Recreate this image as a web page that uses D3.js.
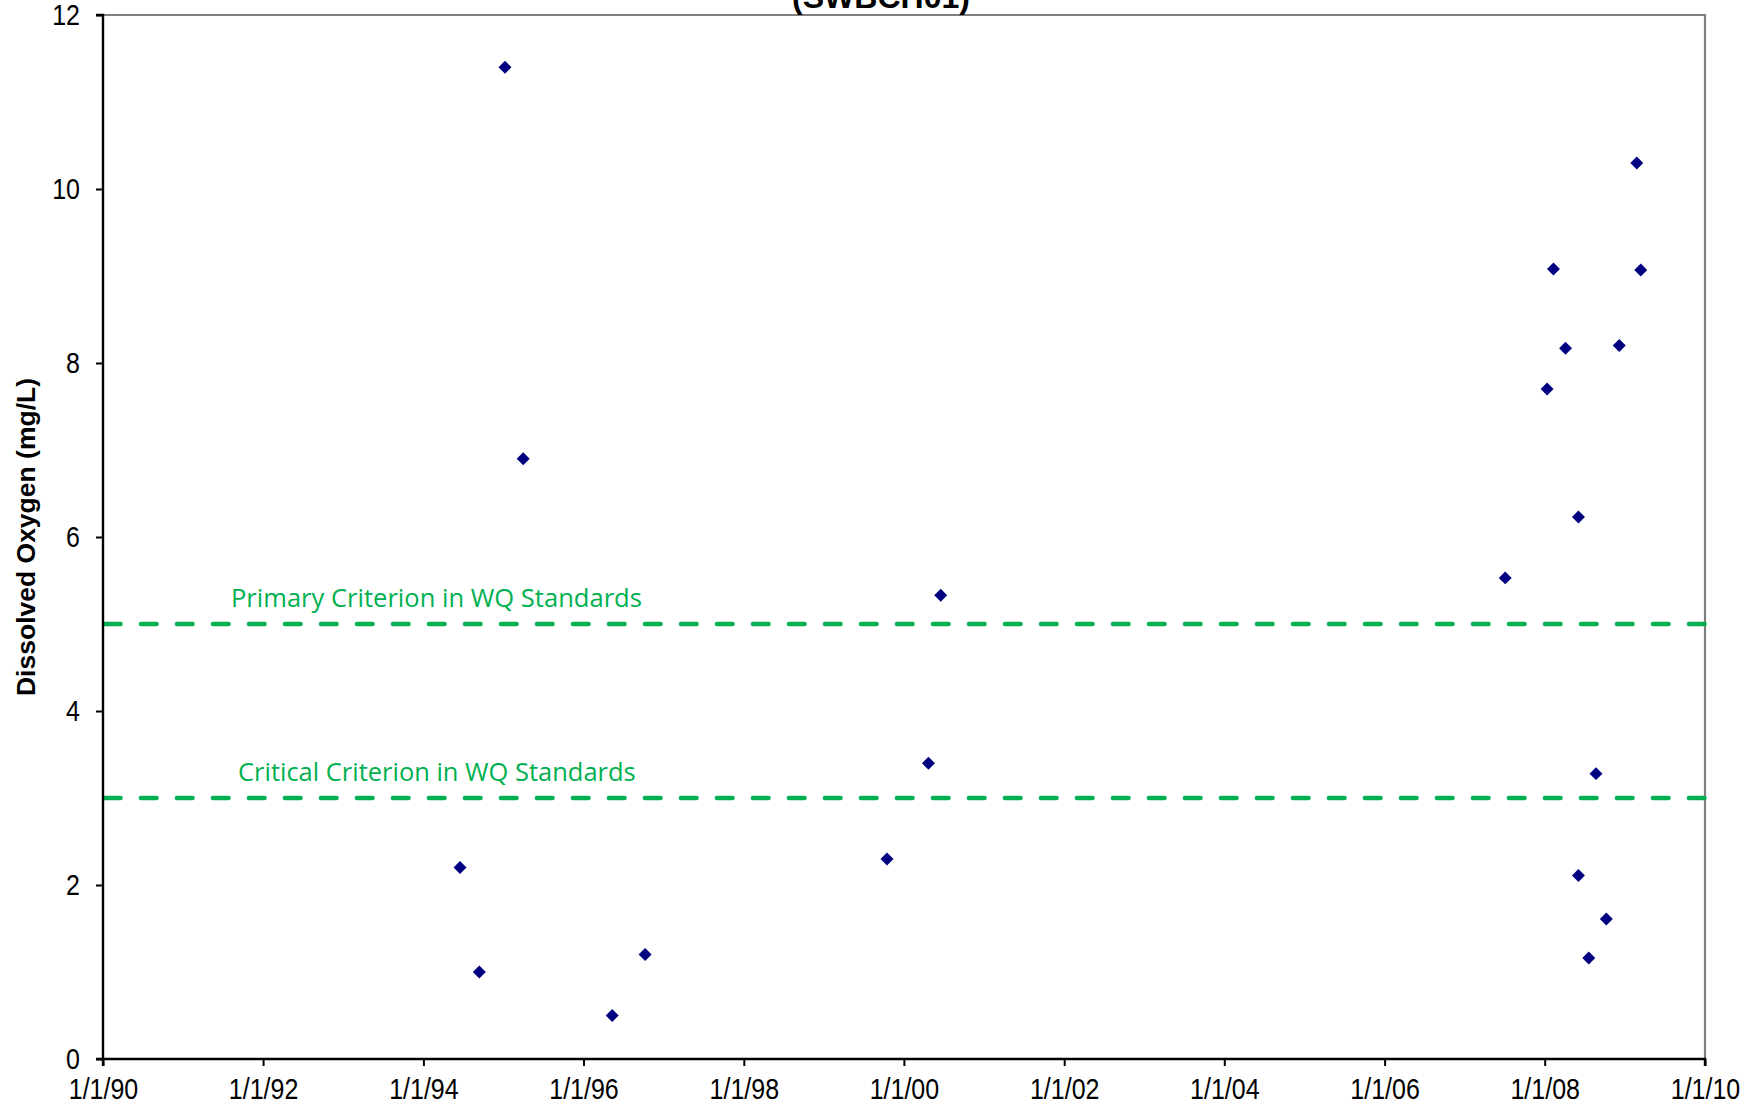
<!DOCTYPE html>
<html>
<head>
<meta charset="utf-8">
<script src="https://cdn.jsdelivr.net/npm/d3@7"></script>
<style>
  html, body { margin: 0; padding: 0; background: #fff; }
  svg { display: block; }
</style>
</head>
<body>
<svg id="chart" width="1759" height="1107"></svg>
<script>
// Sample dates and dissolved oxygen readings (mg/L), station SWBCH01
const sampleDates = [
  "1994-06-17", "1994-09-13", "1995-01-08", "1995-04-01",
  "1996-05-11", "1996-10-08", "1999-10-16", "2000-04-22",
  "2000-06-17", "2007-07-05", "2008-01-12", "2008-02-10",
  "2008-04-05", "2008-06-03", "2008-06-03", "2008-07-20",
  "2008-08-22", "2008-10-08", "2008-12-06", "2009-02-24",
  "2009-03-14"
];
const doValues = [
  2.2, 1.0, 11.4, 6.9,
  0.5, 1.2, 2.3, 3.4,
  5.33, 5.53, 7.7, 9.08,
  8.17, 6.23, 2.11, 1.16,
  3.28, 1.61, 8.2, 10.3,
  9.07
];

// Water quality criteria (horizontal reference lines)
const criteriaLabels = ["Primary Criterion in WQ Standards", "Critical Criterion in WQ Standards"];
const criteriaValues = [5, 3];

// Axis ticks
const xTickDates = ["1990-01-01", "1992-01-01", "1994-01-01", "1996-01-01", "1998-01-01",
                    "2000-01-01", "2002-01-01", "2004-01-01", "2006-01-01", "2008-01-01", "2010-01-01"];
const yTickValues = [0, 2, 4, 6, 8, 10, 12];

const chartTitle = "(SWBCH01)";
const yAxisTitle = "Dissolved Oxygen (mg/L)";

const parseDate = d3.utcParse("%Y-%m-%d");
const fmtDate = d3.utcFormat("%-m/%-d/%y");

const svg = d3.select("#chart");
const margin = { left: 103, top: 15, right: 54, bottom: 48 };
const W = 1759 - margin.left - margin.right;
const H = 1107 - margin.top - margin.bottom;

const x = d3.scaleUtc()
  .domain([parseDate("1990-01-01"), parseDate("2010-01-01")])
  .range([0, W]);
const y = d3.scaleLinear().domain([0, 12]).range([H, 0]);

const g = svg.append("g").attr("transform", `translate(${margin.left},${margin.top})`);

// Top and right frame
g.append("path")
  .attr("d", `M0,0H${W}V${H}`)
  .attr("fill", "none")
  .attr("stroke", "#808080")
  .attr("stroke-width", 2.2);

// Criterion reference lines
const green = "#00B050";
criteriaValues.forEach((v, i) => {
  g.append("line")
    .attr("x1", 2).attr("x2", W)
    .attr("y1", y(v)).attr("y2", y(v))
    .attr("stroke", green)
    .attr("stroke-width", 4.6)
    .attr("stroke-linecap", "round")
    .attr("stroke-dasharray", "15.5,20.5");
});

const labelFont = "'Open Sans', 'Noto Sans', sans-serif";
const labelPos = [
  { x: 128, y: 592, w: 411 },
  { x: 135, y: 766, w: 398 }
];
criteriaLabels.forEach((t, i) => {
  const txt = g.append("text")
    .attr("x", labelPos[i].x)
    .attr("y", labelPos[i].y)
    .attr("fill", green)
    .attr("font-family", labelFont)
    .attr("font-size", 24)
    .text(t);
  const len = txt.node().getComputedTextLength();
  txt.attr("font-size", 24 * labelPos[i].w / len);
});

// Axes (tick labels use a slightly tall, narrow glyph shape)
const tickFont = "'Liberation Sans', Arial, sans-serif";
const stretch = 1.2;
const xAxis = g.append("g")
  .attr("transform", `translate(0,${H})`)
  .call(d3.axisBottom(x)
    .tickValues(xTickDates.map(parseDate))
    .tickFormat(fmtDate)
    .tickSize(7)
    .tickPadding(8.8));
const yAxis = g.append("g")
  .call(d3.axisLeft(y)
    .tickValues(yTickValues)
    .tickFormat(d3.format("d"))
    .tickSize(7)
    .tickPadding(16));

[xAxis, yAxis].forEach(ax => {
  ax.select(".domain").attr("stroke", "#000").attr("stroke-width", 2.4);
  ax.selectAll(".tick line").attr("stroke", "#000").attr("stroke-width", 2);
  ax.selectAll(".tick text")
    .attr("fill", "#000")
    .attr("font-family", tickFont)
    .attr("font-size", 25)
    .attr("transform", `scale(1,${stretch})`);
});
xAxis.select(".domain").attr("d", `M0,7V0H${W}V7`);
yAxis.select(".domain").attr("d", `M-7,0H0V${H}H-7`);

// Data points: navy diamonds
const diamond = d3.symbol().type(d3.symbolSquare).size(84);
g.append("g")
  .selectAll("path")
  .data(sampleDates.map((d, i) => ({ date: parseDate(d), value: doValues[i] })))
  .join("path")
  .attr("d", diamond)
  .attr("transform", d => `translate(${x(d.date)},${y(d.value)}) rotate(45)`)
  .attr("fill", "#000080");

// Titles
svg.append("text")
  .attr("x", 881)
  .attr("y", 8)
  .attr("text-anchor", "middle")
  .attr("font-family", tickFont)
  .attr("font-weight", "bold")
  .attr("font-size", 32)
  .attr("fill", "#000")
  .text(chartTitle);

svg.append("text")
  .attr("transform", "translate(35,537) rotate(-90)")
  .attr("text-anchor", "middle")
  .attr("font-family", tickFont)
  .attr("font-weight", "bold")
  .attr("font-size", 26.5)
  .attr("fill", "#000")
  .text(yAxisTitle);
</script>
</body>
</html>
